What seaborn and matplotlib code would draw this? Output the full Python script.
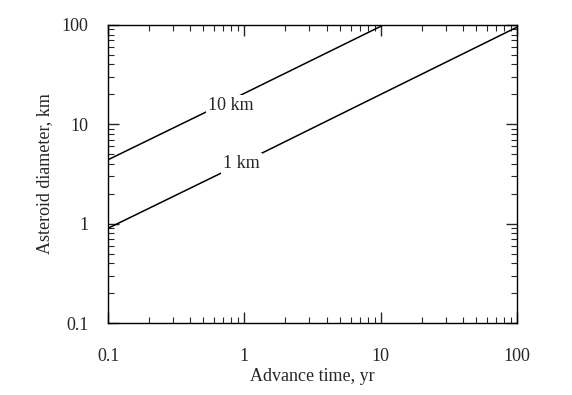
import numpy as np
import pandas as pd
import matplotlib
matplotlib.use("Agg")
import matplotlib.pyplot as plt
import seaborn as sns

# data
time_1km = [0.1, 1, 10, 100]
diam_1km = [0.9, 4.2, 20, 95]
time_10km = [0.1, 1, 10.5]
diam_10km = [4.4, 20.5, 100]

sns.set_style("ticks")
plt.rcParams["font.family"] = ["Liberation Serif", "DejaVu Serif"]

df = pd.concat([
    pd.DataFrame({"time": time_1km, "diam": diam_1km, "size": "1 km"}),
    pd.DataFrame({"time": time_10km, "diam": diam_10km, "size": "10 km"}),
])

fig = plt.figure(figsize=(5.72, 3.95), dpi=100)
ax = fig.add_axes([0.189, 0.182, 0.715, 0.755])

sns.lineplot(data=df, x="time", y="diam", units="size", estimator=None,
             color="black", linewidth=1.1, ax=ax, legend=False)

ax.set_xscale("log")
ax.set_yscale("log")
ax.set_xlim(0.1, 100)
ax.set_ylim(0.1, 100)

ax.set_xticks([0.1, 1, 10, 100])
ax.set_xticklabels(["0.1", "1", "10", "100"])
ax.set_yticks([0.1, 1, 10, 100])
ax.set_yticklabels(["0.1", "1", "10", "100"])

for s in ax.spines.values():
    s.set_visible(True)
    s.set_color("black")
    s.set_linewidth(1.0)

ax.tick_params(which="major", direction="in", length=8, width=1,
               top=True, right=True, labelsize=13)
ax.tick_params(which="minor", direction="in", length=4, width=0.8,
               top=True, right=True)
ax.tick_params(axis="x", which="major", pad=18)
ax.tick_params(axis="y", which="major", pad=14)

ax.set_xlabel("Advance time, yr", fontsize=13, labelpad=2)
ax.set_ylabel("Asteroid diameter, km", fontsize=13, labelpad=6)

box = dict(facecolor="white", edgecolor="none", pad=1.5)
ax.text(0.8, 15.5, "10 km", fontsize=13, ha="center", va="center", bbox=box)
ax.text(0.95, 4.0, "1 km", fontsize=13, ha="center", va="center", bbox=box)

fig.savefig("out.png", dpi=100, facecolor="white")
